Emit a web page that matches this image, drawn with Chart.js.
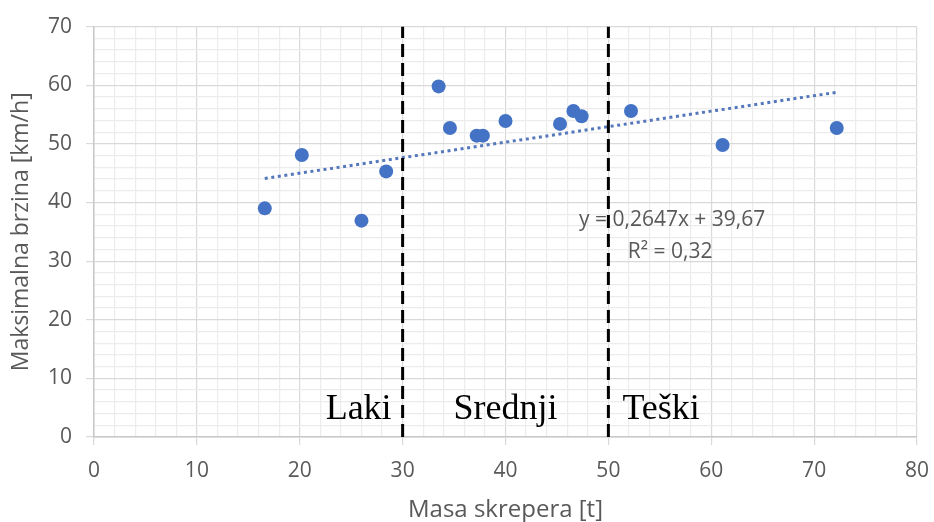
<!DOCTYPE html>
<html>
<head>
<meta charset="utf-8">
<title>Maksimalna brzina vs masa skrepera</title>
<script src="https://cdn.jsdelivr.net/npm/chart.js@4.4.0/dist/chart.umd.min.js"></script>
<style>
    html, body { margin: 0; padding: 0; background: #ffffff; }
    #wrap { width: 934px; height: 522px; position: relative; }
</style>
</head>
<body>
<div id="wrap"><canvas id="speedChart"></canvas></div>
<script>
// Scraper mass [t] vs max speed [km/h]
const massValues = [16.6, 20.2, 26.0, 28.4, 33.5, 34.6, 37.2, 37.8, 40.0, 45.3, 46.6, 47.4, 52.2, 61.1, 72.2];
const speedValues = [39.0, 48.1, 36.9, 45.3, 59.8, 52.7, 51.4, 51.4, 53.9, 53.4, 55.6, 54.7, 55.6, 49.8, 52.7];

// linear trendline ends
const trendMass = [16.6, 72.2];
const trendSpeed = [44.1, 58.8];

// class borders and names
const classBounds = [30, 50];
const classNames = ['Laki', 'Srednji', 'Teški'];

const trendText = ['y = 0,2647x + 39,67', 'R² = 0,32'];
const xTitle = 'Masa skrepera [t]';
const yTitle = 'Maksimalna brzina [km/h]';

const blue = '#4472c4';
const textGray = '#595959';
const majorGrid = '#d9d9d9';
const minorGrid = '#ececec';

const points = massValues.map((m, i) => ({ x: m, y: speedValues[i] }));
const trend = trendMass.map((m, i) => ({ x: m, y: trendSpeed[i] }));

const boundSets = classBounds.map(b => ({
    type: 'line',
    data: [{ x: b, y: 0 }, { x: b, y: 70 }],
    borderColor: '#000000',
    borderWidth: 3,
    borderDash: [13, 6],
    pointRadius: 0,
    fill: false,
    order: 0
}));

// class names + trend equation
const labelPlugin = {
    id: 'labels',
    afterDatasetsDraw(chart) {
        const ctx = chart.ctx;
        const x = chart.scales.x;
        const y = chart.scales.y;
        const base = y.getPixelForValue(0) - 18;
        ctx.save();
        ctx.fillStyle = '#000000';
        ctx.font = '36px "Liberation Serif", "DejaVu Serif", serif';
        ctx.textBaseline = 'alphabetic';
        ctx.textAlign = 'right';
        ctx.fillText(classNames[0], x.getPixelForValue(classBounds[0]) - 11, base);
        ctx.textAlign = 'center';
        ctx.fillText(classNames[1], x.getPixelForValue((classBounds[0] + classBounds[1]) / 2), base);
        ctx.textAlign = 'left';
        ctx.fillText(classNames[2], x.getPixelForValue(classBounds[1]) + 14, base);

        ctx.fillStyle = textGray;
        ctx.font = '21px "Open Sans", sans-serif';
        ctx.textAlign = 'center';
        ctx.fillText(trendText[0], x.getPixelForValue(56.2), y.getPixelForValue(36));
        ctx.fillText(trendText[1], x.getPixelForValue(56), y.getPixelForValue(30.5));
        ctx.restore();
    }
};

const isMajor = (v) => Math.round(v) % 10 === 0;

new Chart(document.getElementById('speedChart').getContext('2d'), {
    type: 'scatter',
    data: {
        datasets: [
            {
                label: 'Brzina',
                data: points,
                backgroundColor: blue,
                borderWidth: 0,
                pointRadius: 7,
                pointHoverRadius: 7,
                order: 2
            },
            {
                type: 'line',
                label: 'Trend',
                data: trend,
                borderColor: '#5577bb',
                borderWidth: 3,
                borderDash: [3, 3.6],
                pointRadius: 0,
                fill: false,
                order: 1
            },
            ...boundSets
        ]
    },
    options: {
        responsive: true,
        maintainAspectRatio: false,
        animation: false,
        layout: {
            padding: { top: 24, right: 17, left: 0, bottom: 0 }
        },
        plugins: {
            legend: { display: false },
            tooltip: { enabled: false }
        },
        scales: {
            x: {
                type: 'linear',
                min: 0,
                max: 80,
                afterFit: (scale) => {
                    scale.height = 85;
                    scale.paddingLeft = 0;
                    scale.paddingRight = 0;
                },
                grid: {
                    color: (c) => isMajor(c.tick.value) ? majorGrid : minorGrid,
                    tickColor: (c) => isMajor(c.tick.value) ? majorGrid : 'rgba(0,0,0,0)',
                    tickLength: 8,
                    lineWidth: 1.2
                },
                border: { color: '#c8c8c8', width: 1.5 },
                ticks: {
                    stepSize: 2,
                    autoSkip: false,
                    maxRotation: 0,
                    padding: 13,
                    color: textGray,
                    font: { family: 'Open Sans', size: 21 },
                    callback: (v) => isMajor(v) ? v : ''
                },
                title: {
                    display: true,
                    text: xTitle,
                    color: textGray,
                    font: { family: 'Open Sans', size: 24, lineHeight: 1 },
                    padding: { top: 0, bottom: 0 }
                }
            },
            y: {
                type: 'linear',
                min: 0,
                max: 70,
                afterFit: (scale) => { scale.width = 94; },
                grid: {
                    color: (c) => isMajor(c.tick.value) ? majorGrid : minorGrid,
                    tickColor: (c) => isMajor(c.tick.value) ? majorGrid : 'rgba(0,0,0,0)',
                    tickLength: 8,
                    lineWidth: 1.2
                },
                border: { color: '#c8c8c8', width: 1.5 },
                ticks: {
                    stepSize: 2,
                    autoSkip: false,
                    padding: 14,
                    color: textGray,
                    font: { family: 'Open Sans', size: 21 },
                    callback: (v) => isMajor(v) ? v : ''
                },
                title: {
                    display: true,
                    text: yTitle,
                    color: textGray,
                    font: { family: 'Open Sans', size: 23, lineHeight: 1 },
                    padding: { top: 10, bottom: 0 }
                }
            }
        }
    },
    plugins: [labelPlugin]
});
</script>
</body>
</html>
